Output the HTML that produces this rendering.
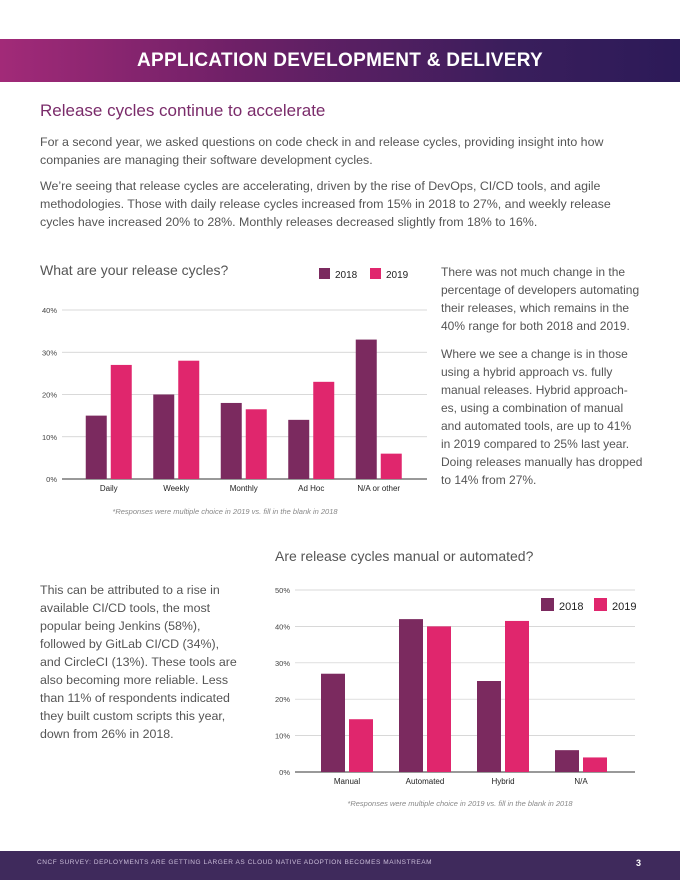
<!DOCTYPE html>
<html><head><meta charset="utf-8"><style>
body{margin:0;width:680px;height:880px;position:relative;background:#fff;font-family:"Liberation Sans",sans-serif;overflow:hidden}
.abs{position:absolute}
p{margin:0}
.txt{color:#555;font-size:12.4px;line-height:18px}
</style></head><body>
<div class="abs" style="left:0;top:39px;width:680px;height:43px;background:linear-gradient(90deg,#a22a78,#6e2067 35%,#3a1e5c 75%,#2c1a58);"></div>
<div class="abs" style="left:0;top:39px;width:680px;height:43px;line-height:43px;text-align:center;color:#fff;font-weight:bold;font-size:19px;letter-spacing:0.3px">APPLICATION DEVELOPMENT &amp; DELIVERY</div>
<div class="abs" style="left:40px;top:101px;font-size:17px;color:#7a2b6a">Release cycles continue to accelerate</div>
<div class="abs txt" style="left:40px;top:133px;width:610px">For a second year, we asked questions on code check in and release cycles, providing insight into how companies are managing their software development cycles.</div>
<div class="abs txt" style="left:40px;top:177px;width:600px">We’re seeing that release cycles are accelerating, driven by the rise of DevOps, CI/CD tools, and agile methodologies. Those with daily release cycles increased from 15% in 2018 to 27%, and weekly release cycles have increased 20% to 28%. Monthly releases decreased slightly from 18% to 16%.</div>
<div class="abs txt" style="left:441px;top:263px;width:230px;font-size:12px;white-space:nowrap">There was not much change in the<br>percentage of developers automating<br>their releases, which remains in the<br>40% range for both 2018 and 2019.</div>
<div class="abs txt" style="left:441px;top:345px;width:230px;font-size:12px;white-space:nowrap">Where we see a change is in those<br>using a hybrid approach vs. fully<br>manual releases. Hybrid approach-<br>es, using a combination of manual<br>and automated tools, are up to 41%<br>in 2019 compared to 25% last year.<br>Doing releases manually has dropped<br>to 14% from 27%.</div>
<div class="abs txt" style="left:40px;top:581px;width:200px">This can be attributed to a rise in available CI/CD tools, the most popular being Jenkins (58%), followed by GitLab CI/CD (34%), and CircleCI (13%). These tools are also becoming more reliable. Less than 11% of respondents indicated they built custom scripts this year, down from 26% in 2018.</div>
<svg class="abs" style="left:0;top:0" width="680" height="880" font-family="Liberation Sans, sans-serif">
<text x="40" y="275" font-size="14" fill="#555">What are your release cycles?</text>
<g id="c1"></g>
<text x="225" y="514" font-size="7.5" font-style="italic" fill="#888" text-anchor="middle">*Responses were multiple choice in 2019 vs. fill in the blank in 2018</text>
<text x="275" y="561" font-size="14" fill="#555">Are release cycles manual or automated?</text>
<g id="c2"></g>
<text x="460" y="806" font-size="7.5" font-style="italic" fill="#888" text-anchor="middle">*Responses were multiple choice in 2019 vs. fill in the blank in 2018</text>
</svg>
<div class="abs" style="left:0;top:851px;width:680px;height:29px;background:#3f2a5c"></div>
<div class="abs" style="left:37px;top:859px;font-size:6.5px;letter-spacing:0.55px;color:#c9bcd8">CNCF SURVEY: DEPLOYMENTS ARE GETTING LARGER AS CLOUD NATIVE ADOPTION BECOMES MAINSTREAM</div>
<div class="abs" style="left:636px;top:858px;font-size:9px;font-weight:bold;color:#fff">3</div>
<script>
const c1Categories=["Daily","Weekly","Monthly","Ad Hoc","N/A or other"];
const c1Values2018=[15,20,18,14,33];
const c1Values2019=[27,28,16.5,23,6];
const c1Ticks=[0,10,20,30,40];
const c2Categories=["Manual","Automated","Hybrid","N/A"];
const c2Values2018=[27,42,25,6];
const c2Values2019=[14.5,40,41.5,4];
const c2Ticks=[0,10,20,30,40,50];
const C18="#7b2a5f",C19="#e0266d",NS="http://www.w3.org/2000/svg";
function el(g,t,a){const e=document.createElementNS(NS,t);for(const k in a)e.setAttribute(k,a[k]);g.appendChild(e);return e;}
function draw(gid,cfg,cats,v18,v19,ticks){
  const g=document.getElementById(gid);
  const max=ticks[ticks.length-1];
  const y=v=>cfg.y0-(v/max)*(cfg.y0-cfg.yTop);
  const xc=i=>cfg.xStart+cfg.step*(i+0.5);
  ticks.forEach(t=>{
    const l=el(g,'line',{x1:cfg.xl,x2:cfg.xr,y1:y(t),y2:y(t),stroke:t===0?'#333':'#ccc','stroke-width':t===0?1:0.7});
    
    
    const tx=el(g,'text',{x:cfg.xl-5,y:y(t)+3,'font-size':7.5,fill:'#444','text-anchor':'end'});
    tx.textContent=t+'%';
    
    
  });
  cats.forEach((c,i)=>{
    const b1=el(g,'rect',{x:xc(i)-cfg.gap/2-cfg.bw,y:y(v18[i]),width:cfg.bw,height:cfg.y0-y(v18[i]),fill:C18});
    
    
    const b2=el(g,'rect',{x:xc(i)+cfg.gap/2,y:y(v19[i]),width:cfg.bw,height:cfg.y0-y(v19[i]),fill:C19});
    
    
    const tx=el(g,'text',{x:xc(i),y:cfg.y0+12,'font-size':8,fill:'#222','text-anchor':'middle'});
    tx.textContent=c;
    
    
  });
  const L=cfg.leg;
  [[C18,'2018',0],[C19,'2019',L.sp]].forEach(([col,lab,dx])=>{
    const r=el(g,'rect',{x:L.x+dx,y:L.y,width:L.s,height:L.s,fill:col});
    
    
    const t=el(g,'text',{x:L.x+dx+L.s+5,y:L.y+L.s-1,'font-size':L.f,fill:'#222'});
    t.textContent=lab;
    
    
  });
}
draw('c1',{y0:479,yTop:310,xl:62,xr:427,xStart:75,step:67.5,bw:21,gap:4,leg:{x:319,y:268,s:11,sp:51,f:10}},c1Categories,c1Values2018,c1Values2019,c1Ticks);
draw('c2',{y0:772,yTop:590,xl:295,xr:635,xStart:308,step:78,bw:24,gap:4,leg:{x:541,y:598,s:13,sp:53,f:11}},c2Categories,c2Values2018,c2Values2019,c2Ticks);
</script>
</body></html>
